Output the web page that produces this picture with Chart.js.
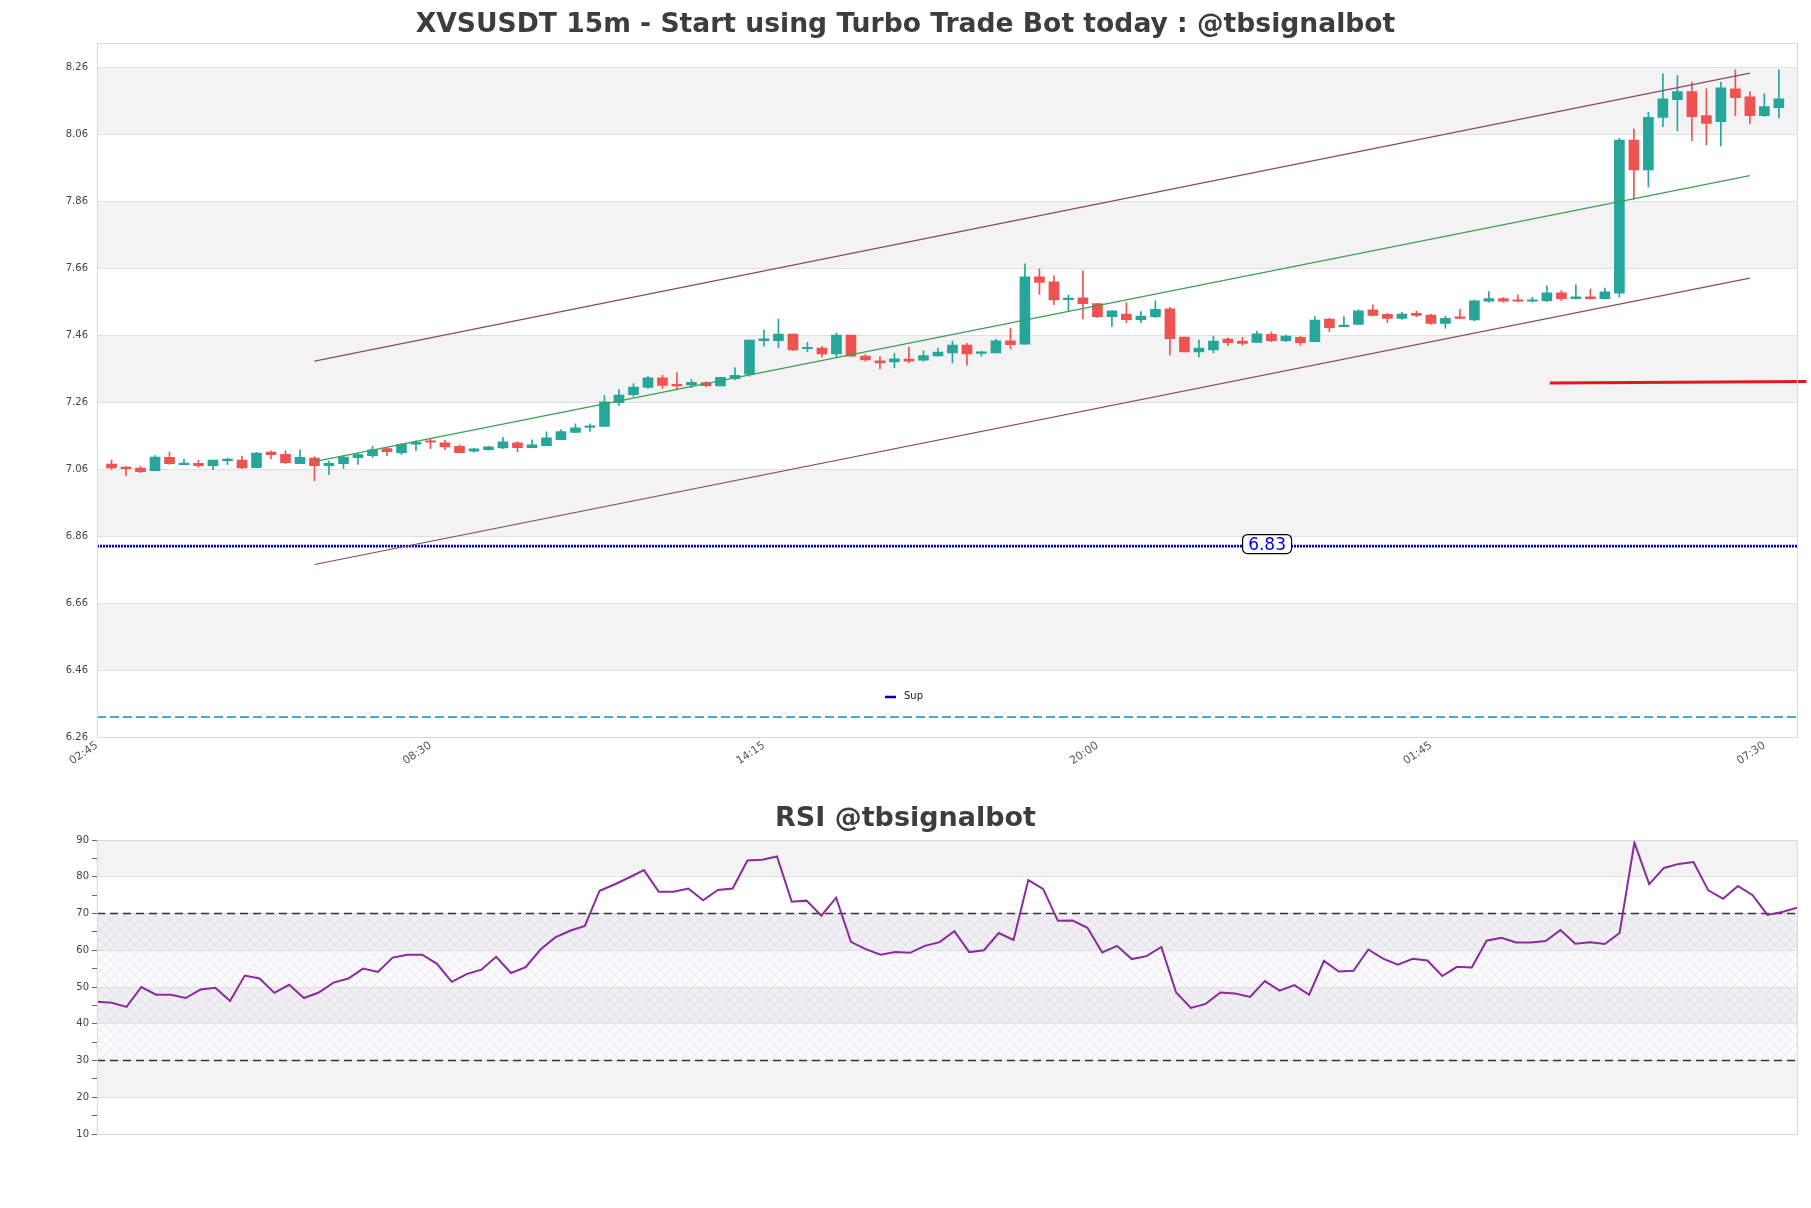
<!DOCTYPE html>
<html><head><meta charset="utf-8">
<script src="https://cdn.jsdelivr.net/npm/chart.js@4.4.1/dist/chart.umd.min.js"></script>
<style>
html,body{margin:0;padding:0;background:#fff;}
#wrap{position:relative;width:1811px;height:1208px;background:#fff;}
#main{position:absolute;left:0;top:0;}
#rsi{position:absolute;left:0;top:790px;}
</style></head><body>
<div id="wrap"><canvas id="main" width="1811" height="800"></canvas><canvas id="rsi" width="1811" height="400"></canvas></div>
<script>
// ---------- DATA ----------
const mainTitle = 'XVSUSDT 15m - Start using Turbo Trade Bot today : @tbsignalbot';
const rsiTitle = 'RSI @tbsignalbot';
const xTickIndex = [-1, 22, 45, 68, 91, 114];
const xTickLabels = ['02:45', '08:30', '14:15', '20:00', '01:45', '07:30'];
const priceTicks = [6.26, 6.46, 6.66, 6.86, 7.06, 7.26, 7.46, 7.66, 7.86, 8.06, 8.26];
const rsiTicks = [10, 15, 20, 25, 30, 35, 40, 45, 50, 55, 60, 65, 70, 75, 80, 85, 90];

const opens = [7.075,7.066,7.063,7.055,7.095,7.073,7.077,7.070,7.085,7.087,7.064,7.111,7.104,7.076,7.093,7.070,7.076,7.094,7.100,7.121,
7.109,7.134,7.144,7.138,7.128,7.113,7.118,7.123,7.138,7.124,7.130,7.148,7.169,7.184,7.187,7.258,7.282,7.304,7.332,7.313,
7.311,7.318,7.308,7.330,7.343,7.443,7.443,7.463,7.419,7.421,7.404,7.460,7.397,7.383,7.380,7.388,7.385,7.398,7.407,7.430,
7.405,7.407,7.443,7.433,7.634,7.619,7.566,7.571,7.554,7.515,7.523,7.506,7.515,7.538,7.454,7.410,7.416,7.448,7.442,7.438,
7.462,7.443,7.453,7.440,7.508,7.485,7.492,7.535,7.522,7.510,7.525,7.520,7.495,7.514,7.505,7.561,7.569,7.563,7.561,7.563,
7.586,7.569,7.574,7.569,7.585,8.042,7.953,8.110,8.163,8.187,8.115,8.097,8.195,8.171,8.115,8.139];
const highs = [7.087,7.067,7.068,7.100,7.111,7.090,7.086,7.087,7.092,7.098,7.110,7.114,7.114,7.117,7.097,7.084,7.100,7.107,7.128,7.125,
7.136,7.144,7.149,7.146,7.132,7.122,7.128,7.155,7.142,7.147,7.171,7.178,7.195,7.195,7.279,7.297,7.315,7.337,7.340,7.348,
7.327,7.321,7.334,7.363,7.445,7.475,7.508,7.463,7.438,7.426,7.466,7.460,7.402,7.396,7.405,7.424,7.413,7.421,7.442,7.435,
7.412,7.447,7.481,7.673,7.658,7.637,7.579,7.652,7.554,7.532,7.557,7.530,7.562,7.543,7.454,7.445,7.457,7.452,7.453,7.472,
7.470,7.460,7.456,7.515,7.510,7.515,7.535,7.550,7.525,7.528,7.532,7.522,7.517,7.537,7.565,7.590,7.572,7.580,7.573,7.607,
7.593,7.610,7.597,7.600,8.047,8.075,8.125,8.240,8.235,8.215,8.195,8.215,8.252,8.186,8.180,8.252];
const lows = [7.059,7.040,7.049,7.055,7.074,7.073,7.065,7.058,7.073,7.061,7.064,7.090,7.076,7.076,7.025,7.043,7.062,7.074,7.095,7.100,
7.104,7.115,7.121,7.118,7.109,7.110,7.116,7.121,7.112,7.124,7.130,7.148,7.169,7.172,7.187,7.250,7.277,7.301,7.301,7.297,
7.303,7.305,7.308,7.326,7.337,7.427,7.422,7.414,7.410,7.395,7.395,7.397,7.382,7.359,7.362,7.377,7.382,7.398,7.377,7.370,
7.397,7.407,7.419,7.433,7.581,7.551,7.533,7.508,7.512,7.485,7.497,7.497,7.512,7.401,7.410,7.395,7.407,7.428,7.430,7.438,
7.440,7.440,7.429,7.440,7.470,7.485,7.490,7.517,7.497,7.507,7.515,7.492,7.480,7.510,7.502,7.558,7.558,7.559,7.558,7.560,
7.563,7.567,7.567,7.567,7.573,7.865,7.902,8.082,8.070,8.040,8.028,8.025,8.115,8.091,8.113,8.108];
const closes = [7.063,7.061,7.052,7.096,7.076,7.078,7.070,7.087,7.090,7.063,7.108,7.103,7.079,7.095,7.070,7.077,7.096,7.103,7.117,7.112,
7.134,7.140,7.140,7.126,7.109,7.120,7.126,7.141,7.124,7.132,7.153,7.172,7.183,7.189,7.261,7.281,7.305,7.332,7.310,7.308,
7.319,7.309,7.334,7.340,7.445,7.449,7.463,7.416,7.422,7.404,7.460,7.397,7.386,7.377,7.389,7.382,7.399,7.409,7.430,7.404,
7.410,7.443,7.431,7.634,7.617,7.565,7.569,7.554,7.515,7.532,7.506,7.517,7.537,7.449,7.410,7.421,7.442,7.437,7.435,7.464,
7.443,7.457,7.437,7.505,7.482,7.488,7.532,7.519,7.510,7.523,7.519,7.495,7.510,7.510,7.562,7.569,7.561,7.561,7.565,7.586,
7.569,7.574,7.569,7.589,8.042,7.953,8.110,8.165,8.187,8.112,8.092,8.198,8.169,8.115,8.142,8.165];

const rsiValues = [46.0,45.7,44.6,50.0,47.9,47.9,47.0,49.3,49.8,46.2,53.1,52.3,48.4,50.6,47.0,48.5,51.2,52.3,55.0,54.1,
58.0,58.8,58.8,56.3,51.4,53.5,54.7,58.2,53.8,55.4,60.2,63.5,65.3,66.6,76.2,77.9,79.8,81.8,75.9,75.9,
76.8,73.6,76.4,76.8,84.4,84.6,85.5,73.2,73.5,69.4,74.3,62.3,60.3,58.8,59.5,59.3,61.2,62.2,65.2,59.5,
60.0,64.7,62.8,79.1,76.7,68.0,68.1,66.1,59.4,61.2,57.6,58.4,60.9,48.5,44.3,45.4,48.5,48.2,47.3,51.6,
49.0,50.5,47.9,57.1,54.2,54.4,60.2,57.7,56.1,57.7,57.2,53.0,55.5,55.3,62.6,63.4,62.1,62.1,62.5,65.5,
61.8,62.2,61.7,64.7,89.3,78.0,82.4,83.5,84.0,76.3,74.0,77.5,75.0,69.6,70.4,71.6];

const channelIdx = [14, 113];
const channelUpper = [7.382, 8.242];
const channelMid = [7.082, 7.936];
const channelLower = [6.775, 7.630];
const supLevel = 6.83;
const supLabelIdx = 79.7;
const sup2Level = 6.32;
const redLineIdx = [99.2, 116.9];
const redLineVal = [7.317, 7.321];
const rsiHigh = 70, rsiLow = 30;
const xMin = -1, xMax = 116.25;
const priceMin = 6.26, priceMax = 8.331;

// ---------- STYLE ----------
Chart.defaults.font.family = "'DejaVu Sans', sans-serif";
const UP = '#26a69a', DOWN = '#ef5350';
const BAND = '#f3f3f3', GRID = '#e1e1e1', FRAME = '#d8d8d8';

const idx = opens.map((_, i) => i);
const candleColor = idx.map(i => closes[i] >= opens[i] ? UP : DOWN);

function seg(xs, ys) { return [{x: xs[0], y: ys[0]}, {x: xs[1], y: ys[1]}]; }

const rightSpacer = {
  type: 'linear', position: 'right', display: true,
  grid: { display: false, drawTicks: false }, border: { display: false },
  ticks: { display: false },
  afterFit: s => { s.width = 14; }
};

const bgPlugin = {
  id: 'bg',
  beforeDraw(chart, args, o) {
    const {ctx, chartArea: a} = chart;
    const y = chart.scales.y;
    ctx.save();
    ctx.fillStyle = '#fff';
    ctx.fillRect(0, 0, chart.width, chart.height);
    const t = o.ticks;
    for (let i = 1; i < t.length - 1; i += 2) {
      const p0 = y.getPixelForValue(t[i]), p1 = y.getPixelForValue(t[i + 1]);
      ctx.fillStyle = o.color;
      ctx.fillRect(a.left, Math.min(p0, p1), a.right - a.left, Math.abs(p1 - p0));
    }
    if (o.hatch) {
      const pc = document.createElement('canvas');
      pc.width = 10; pc.height = 10;
      const p = pc.getContext('2d');
      p.strokeStyle = 'rgba(185,150,210,0.33)';
      p.lineWidth = 0.6;
      p.beginPath();
      p.moveTo(0, 0); p.lineTo(10, 10);
      p.moveTo(10, 0); p.lineTo(0, 10);
      p.stroke();
      const pat = ctx.createPattern(pc, 'repeat');
      const h0 = y.getPixelForValue(o.hatch[1]), h1 = y.getPixelForValue(o.hatch[0]);
      ctx.fillStyle = 'rgba(220,210,235,0.12)';
      ctx.fillRect(a.left, h0, a.right - a.left, h1 - h0);
      ctx.fillStyle = pat;
      ctx.fillRect(a.left, h0, a.right - a.left, h1 - h0);
    }
    ctx.restore();
  },
  afterDraw(chart, args, o) {
    const {ctx, chartArea: a} = chart;
    ctx.save();
    ctx.strokeStyle = FRAME;
    ctx.lineWidth = 1;
    ctx.strokeRect(Math.round(a.left) + 0.5, Math.round(a.top) + 0.5, Math.round(a.right - a.left), Math.round(a.bottom - a.top));
    if (o.legend) {
      const x0 = a.left + 0.4635 * (a.right - a.left);
      const yy = a.bottom - 40;
      ctx.strokeStyle = '#0000aa';
      ctx.lineWidth = 2.5;
      ctx.beginPath(); ctx.moveTo(x0, yy); ctx.lineTo(x0 + 11, yy); ctx.stroke();
      ctx.fillStyle = '#222';
      ctx.font = "10px 'DejaVu Sans'";
      ctx.textBaseline = 'middle';
      ctx.fillText(o.legend, x0 + 19, yy - 1);
    }
    if (o.supLabel) {
      const xs = chart.scales.x, ys = chart.scales.y;
      const cx = xs.getPixelForValue(supLabelIdx), cy = ys.getPixelForValue(supLevel) - 2;
      const w = 49, h = 19, r = 5;
      ctx.beginPath();
      ctx.roundRect(cx - w / 2, cy - h / 2, w, h, r);
      ctx.fillStyle = '#fff'; ctx.fill();
      ctx.strokeStyle = '#000'; ctx.lineWidth = 1.2; ctx.stroke();
      ctx.fillStyle = '#0000ee';
      ctx.font = "17px 'DejaVu Sans'";
      ctx.textAlign = 'center'; ctx.textBaseline = 'middle';
      ctx.fillText(supLevel.toFixed(2), cx, cy + 1);
    }
    ctx.restore();
  }
};

// ---------- MAIN CHART ----------
new Chart(document.getElementById('main'), {
  type: 'bar',
  data: {
    datasets: [
      { type: 'line', data: seg([xMin, xMax], [sup2Level, sup2Level]), borderColor: '#1589cc', borderWidth: 1.5, borderDash: [9, 4], pointRadius: 0, order: 5 },
      { type: 'line', data: seg([xMin, xMax], [supLevel, supLevel]), borderColor: '#0000c0', borderWidth: 2.6, borderDash: [2, 1], pointRadius: 0, order: 5 },
      { type: 'bar', data: idx.map(i => ({x: i, y: [lows[i], highs[i]]})), backgroundColor: candleColor, barThickness: 1, grouped: false, borderWidth: 0, order: 4 },
      { type: 'bar', data: idx.map(i => ({x: i, y: [opens[i], closes[i]]})), backgroundColor: candleColor, barThickness: 10, grouped: false, borderWidth: 0, minBarLength: 1.5, order: 3 },
      { type: 'line', data: seg(channelIdx, channelUpper), borderColor: '#8a4a62', borderWidth: 1.2, pointRadius: 0, order: 1 },
      { type: 'line', data: seg(channelIdx, channelMid), borderColor: '#3ba052', borderWidth: 1.2, pointRadius: 0, order: 1 },
      { type: 'line', data: seg(channelIdx, channelLower), borderColor: '#8a4a62', borderWidth: 1.2, pointRadius: 0, order: 1 },
      { type: 'line', data: seg(redLineIdx, redLineVal), borderColor: '#e01a1a', borderWidth: 3, pointRadius: 0, clip: false, order: 0 }
    ]
  },
  options: {
    responsive: false, animation: false, devicePixelRatio: 1, events: [],
    layout: { padding: 0 },
    plugins: {
      legend: { display: false }, tooltip: { enabled: false },
      title: { display: true, text: mainTitle, color: '#3d3d3d', font: { size: 26.6, weight: 'bold' }, padding: { top: 9, bottom: 2.4 } },
      bg: { ticks: priceTicks, color: BAND, legend: 'Sup', supLabel: true }
    },
    scales: {
      x: {
        type: 'linear', min: xMin, max: xMax, offset: false,
        grid: { display: false, drawTicks: false },
        border: { display: false },
        afterBuildTicks: s => { s.ticks = xTickIndex.map(v => ({ value: v })); },
        afterFit: s => { s.height = 63; },
        ticks: {
          autoSkip: false, minRotation: 34, maxRotation: 34, padding: 2,
          color: '#555', font: { size: 11 },
          callback: v => { const k = xTickIndex.indexOf(v); return k >= 0 ? xTickLabels[k] : ''; }
        }
      },
      y: {
        type: 'linear', min: priceMin, max: priceMax,
        grid: { color: GRID, drawTicks: false },
        border: { display: false },
        afterBuildTicks: s => { s.ticks = priceTicks.map(v => ({ value: v })); },
        afterFit: s => { s.width = 97; },
        ticks: { padding: 9, color: '#444', font: { size: 10 }, callback: v => Number(v).toFixed(2) }
      },
      yr: rightSpacer
    }
  },
  plugins: [bgPlugin]
});

// ---------- RSI CHART ----------
new Chart(document.getElementById('rsi'), {
  type: 'line',
  data: {
    datasets: [
      { data: seg([0, rsiValues.length - 1], [rsiHigh, rsiHigh]), borderColor: '#333', borderWidth: 1.3, borderDash: [8, 5], pointRadius: 0, order: 2 },
      { data: seg([0, rsiValues.length - 1], [rsiLow, rsiLow]), borderColor: '#333', borderWidth: 1.3, borderDash: [8, 5], pointRadius: 0, order: 2 },
      { data: rsiValues.map((v, i) => ({ x: i, y: v })), borderColor: '#8c2a9e', borderWidth: 2, pointRadius: 0, tension: 0, order: 1 }
    ]
  },
  options: {
    responsive: false, animation: false, devicePixelRatio: 1, events: [],
    layout: { padding: { left: 0, right: 0, top: 0, bottom: 56 } },
    plugins: {
      legend: { display: false }, tooltip: { enabled: false },
      title: { display: true, text: rsiTitle, color: '#3d3d3d', font: { size: 27, weight: 'bold' }, padding: { top: 12.8, bottom: 4.8 } },
      bg: { ticks: rsiTicks.filter(v => v % 10 === 0), color: BAND, hatch: [rsiLow, rsiHigh] }
    },
    scales: {
      x: { type: 'linear', min: 0, max: rsiValues.length - 1, display: false },
      y: {
        type: 'linear', min: 10, max: 90,
        grid: { color: c => (c.tick && c.tick.value % 10 === 0) ? GRID : 'rgba(0,0,0,0)', tickColor: '#666', tickLength: 5, drawTicks: true },
        border: { display: false },
        afterBuildTicks: s => { s.ticks = rsiTicks.map(v => ({ value: v })); },
        afterFit: s => { s.width = 97; },
        ticks: { padding: 3, color: '#444', font: { size: 10 }, autoSkip: false, callback: v => (v % 10 === 0 ? String(v) : '') }
      },
      yr: rightSpacer
    }
  },
  plugins: [bgPlugin]
});
</script>
</body></html>
